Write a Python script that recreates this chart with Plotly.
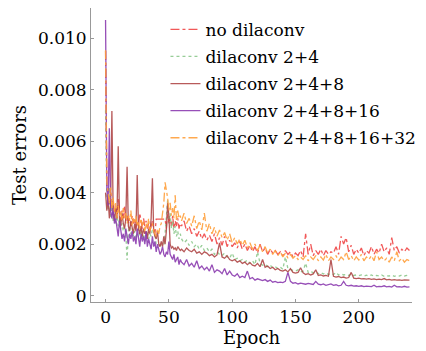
import plotly.graph_objects as go

# epochs: every epoch 0..59, then every 2 epochs 60..240
epochs = list(range(0, 60)) + list(range(60, 241, 2))

# values in units of 1e-5
no_dila_early = [950, 420, 380, 350, 400, 330, 370, 310, 340, 300,
                 380, 320, 290, 330, 300, 350, 290, 310, 280, 300,
                 270, 310, 280, 300, 260, 290, 270, 320, 280, 260,
                 300, 270, 290, 260, 280, 250, 270, 290, 260, 240,
                 297, 297, 297, 297, 297, 297, 297, 297, 260, 320,
                 280, 300, 270, 310, 260, 290, 270, 300, 260, 280]
no_dila_late = [270, 290, 250, 270, 240, 260, 230, 250, 220, 240,
                215, 235, 210, 240, 200, 225, 195, 230, 190, 215,
                190, 205, 185, 210, 180, 200, 175, 195, 170, 190,
                165, 200, 170, 185, 160, 180, 165, 175, 160, 170,
                155, 175, 160, 170, 150, 165, 155, 175, 150, 240,
                160, 200, 155, 175, 160, 180, 155, 175, 160, 170,
                165, 190, 160, 230, 200, 225, 170, 195, 160, 180,
                165, 185, 155, 175, 165, 190, 160, 180, 165, 200,
                170, 185, 160, 225, 175, 190, 165, 180, 170, 185, 175]

d24_early = [720, 380, 330, 420, 300, 350, 290, 330, 280, 310,
             270, 300, 260, 280, 250, 270, 240, 138, 250, 270,
             240, 260, 230, 250, 220, 240, 260, 230, 250, 220,
             240, 210, 230, 250, 220, 240, 230, 260, 250, 240,
             196, 196, 196, 196, 196, 196, 196, 240, 300, 370,
             280, 320, 260, 290, 240, 270, 230, 250, 220, 240]
d24_late = [220, 205, 215, 195, 210, 190, 200, 180, 195, 175,
            185, 170, 180, 160, 170, 160, 155, 165, 150, 145,
            165, 140, 145, 135, 140, 130, 138, 125, 135, 120,
            170, 125, 118, 122, 112, 118, 108, 112, 105, 110,
            102, 150, 105, 100, 98, 95, 100, 92, 95, 126,
            90, 95, 88, 92, 85, 90, 84, 88, 82, 86,
            82, 90, 80, 84, 80, 82, 78, 84, 78, 80,
            77, 80, 76, 79, 76, 80, 75, 78, 76, 80,
            75, 77, 76, 79, 75, 78, 76, 80, 76, 78, 80]

d248_early = [400, 330, 380, 300, 350, 717, 320, 290, 340, 300,
              580, 300, 270, 320, 280, 260, 300, 500, 270, 250,
              290, 260, 240, 280, 250, 468, 260, 240, 270, 230,
              260, 240, 250, 220, 260, 240, 300, 456, 250, 230,
              220, 250, 200, 190, 210, 190, 230, 200, 250, 360,
              310, 200, 185, 190, 180, 185, 175, 190, 180, 175]
d248_late = [180, 170, 185, 175, 170, 180, 165, 170, 160, 170,
             165, 155, 160, 150, 158, 205, 150, 145, 155, 140,
             135, 140, 130, 135, 125, 130, 120, 128, 118, 115,
             125, 112, 140, 110, 115, 105, 110, 100, 105, 98,
             95, 100, 92, 105, 90, 87, 90, 108, 88, 82,
             85, 80, 84, 100, 78, 80, 76, 78, 75, 140,
             75, 72, 74, 70, 72, 68, 70, 90, 68, 66,
             68, 65, 66, 64, 66, 63, 65, 62, 64, 62,
             66, 61, 63, 60, 62, 60, 61, 59, 61, 59, 60]

d24816_early = [1070, 420, 350, 650, 330, 300, 340, 280, 300, 260,
                230, 290, 250, 220, 240, 210, 260, 230, 200, 240,
                220, 250, 210, 230, 200, 260, 220, 190, 240, 210,
                230, 200, 250, 190, 220, 200, 180, 230, 190, 210,
                170, 200, 180, 160, 170, 190, 160, 150, 170, 160,
                210, 160, 150, 140, 160, 130, 140, 150, 120, 140]
d24816_late = [130, 120, 140, 115, 125, 110, 135, 105, 115, 100,
               110, 95, 120, 90, 100, 95, 85, 105, 80, 95,
               80, 75, 85, 70, 75, 70, 95, 65, 70, 60,
               65, 60, 58, 62, 55, 60, 52, 55, 50, 52,
               50, 55, 90, 55, 48, 50, 45, 48, 46, 44,
               47, 45, 43, 55, 44, 42, 45, 40, 42, 45,
               40, 42, 38, 40, 55, 40, 38, 40, 37, 38,
               36, 38, 35, 37, 36, 35, 40, 34, 36, 35,
               38, 34, 36, 33, 40, 34, 35, 33, 36, 33, 34]

d2481632_early = [953, 440, 400, 360, 420, 340, 380, 320, 360, 300,
                  350, 310, 330, 290, 340, 300, 320, 280, 310, 290,
                  330, 270, 300, 280, 310, 270, 290, 260, 300, 270,
                  290, 250, 280, 260, 300, 250, 270, 280, 250, 240,
                  230, 260, 240, 270, 280, 320, 360, 440, 410, 380,
                  330, 360, 310, 340, 300, 390, 290, 330, 300, 310]
d2481632_late = [290, 320, 280, 300, 270, 310, 260, 290, 255, 320,
                 250, 280, 240, 265, 230, 255, 225, 245, 215, 240,
                 205, 225, 200, 220, 195, 215, 185, 205, 180, 200,
                 175, 195, 170, 190, 165, 180, 160, 175, 155, 170,
                 150, 165, 145, 160, 145, 155, 140, 150, 140, 155,
                 135, 150, 140, 155, 135, 150, 138, 160, 135, 150,
                 140, 155, 135, 150, 140, 170, 140, 155, 135, 150,
                 138, 160, 135, 150, 140, 155, 135, 170, 140, 150,
                 135, 145, 130, 150, 135, 170, 135, 145, 130, 140, 135]

names = ["no dilaconv", "dilaconv 2+4", "dilaconv 2+4+8",
         "dilaconv 2+4+8+16", "dilaconv 2+4+8+16+32"]
series = [no_dila_early + no_dila_late,
          d24_early + d24_late,
          d248_early + d248_late,
          d24816_early + d24816_late,
          d2481632_early + d2481632_late]
colors = ["#f04646", "#8cc88c", "#b04848", "#8c3cb0", "#ffa03c"]
dashes = ["dashdot", "dot", "solid", "solid", "dashdot"]

UNIT = 1e-5
fig = go.Figure()
for i, (name, vals, c, d) in enumerate(zip(names, series, colors, dashes)):
    fig.add_trace(go.Scatter(
        x=epochs, y=[v * UNIT for v in vals], mode="lines", name=name,
        legendgroup=f"g{i}", opacity=0.9,
        line=dict(color=c, width=1.3, dash=d)))

font_family = "DejaVu Serif"
fig.update_layout(
    width=426, height=351,
    margin=dict(l=91, r=14, t=8, b=49, autoexpand=False),
    paper_bgcolor="white", plot_bgcolor="white",
    font=dict(family=font_family, size=17, color="black"),
    showlegend=True,
    legend=dict(x=0.232, y=0.987, xanchor="left", yanchor="top",
                bgcolor="rgba(0,0,0,0)", font=dict(family=font_family, size=17),
                tracegroupgap=2, itemwidth=30),
    xaxis=dict(range=[-11.5, 242], tickvals=[0, 50, 100, 150, 200],
               showgrid=False, zeroline=False, showline=True,
               linecolor="#999999", linewidth=1, ticks="inside",
               ticklen=3, tickcolor="#999999", automargin=False,
               tickfont=dict(family=font_family, size=17),
               title=dict(text="Epoch", standoff=2,
                          font=dict(family=font_family, size=18))),
    yaxis=dict(range=[-0.00025, 0.01117],
               tickvals=[0, 0.002, 0.004, 0.006, 0.008, 0.010],
               ticktext=["0", "0.002", "0.004", "0.006", "0.008", "0.010"],
               showgrid=False, zeroline=False, showline=True,
               linecolor="#999999", linewidth=1, ticks="inside",
               ticklen=3, tickcolor="#999999", automargin=False,
               tickfont=dict(family=font_family, size=17),
               title=dict(text="Test errors", standoff=6,
                          font=dict(family=font_family, size=18))),
)

fig.write_html("out.html")
